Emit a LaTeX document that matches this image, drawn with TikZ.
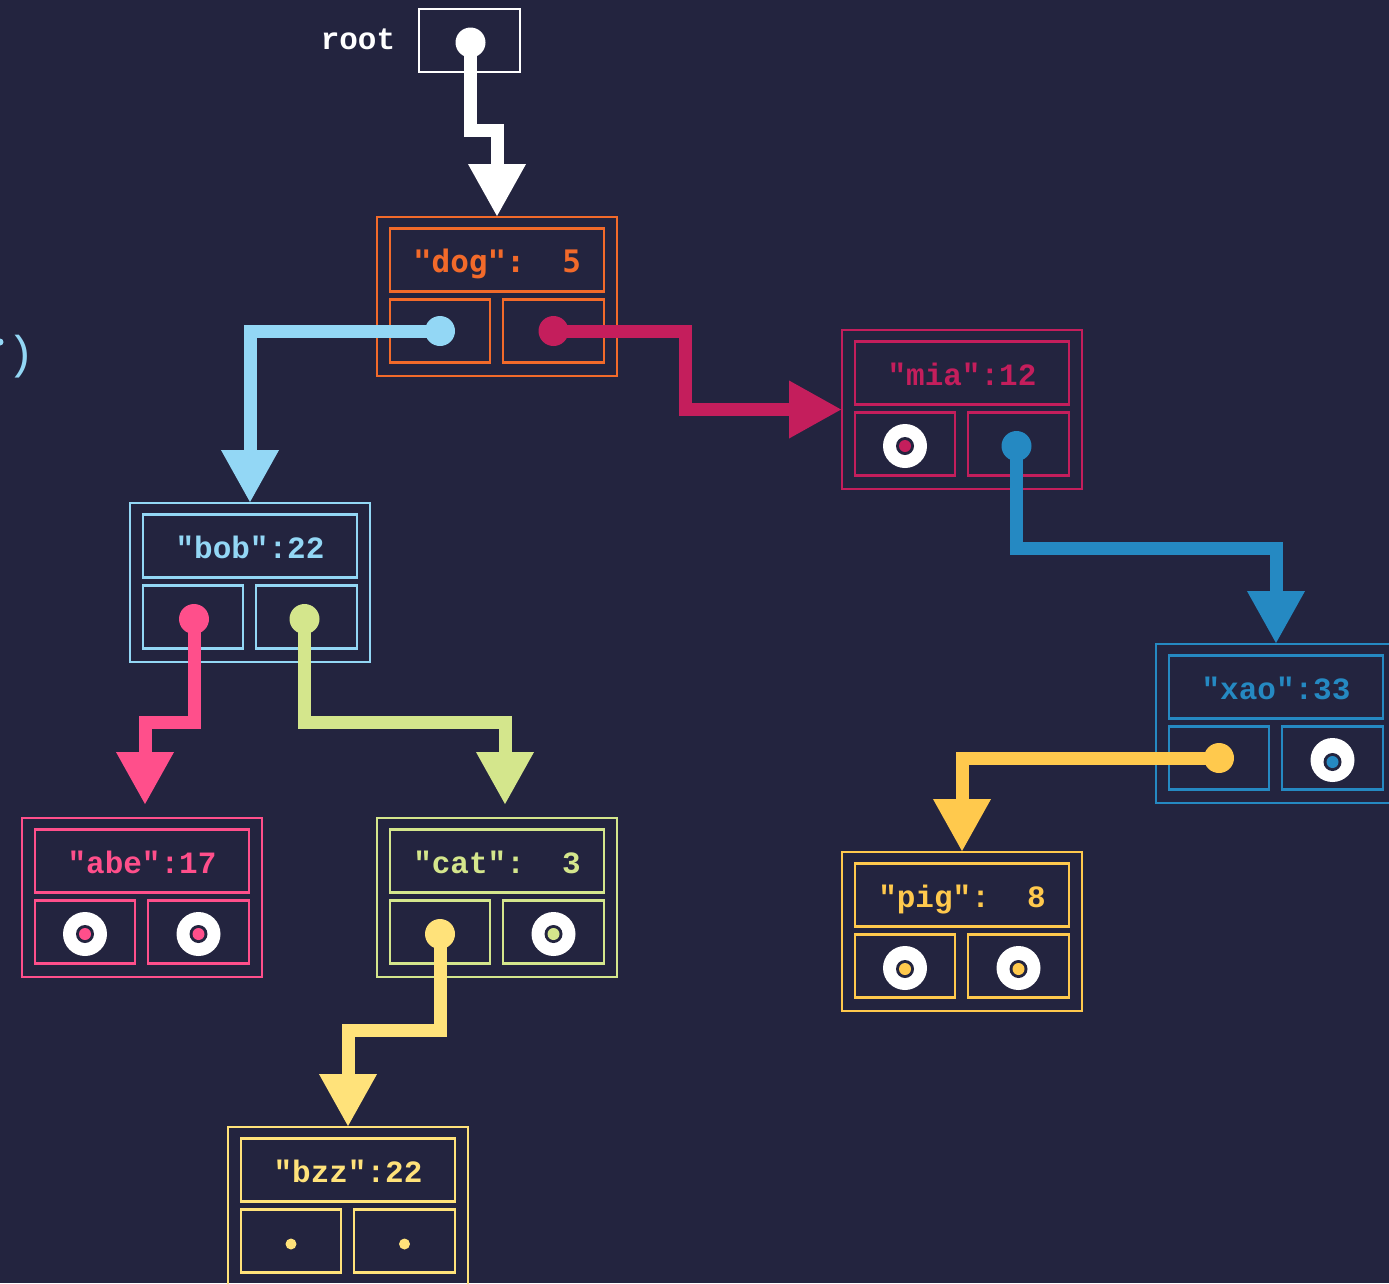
\documentclass[tikz,border=0pt]{standalone}
\usepackage{fontspec}
\usetikzlibrary{arrows.meta,calc}
\newfontfamily\codefont{Liberation Mono}
\newfontfamily\dogfont{DejaVu Sans Mono}
\definecolor{bg}{HTML}{23243F}
\definecolor{cdog}{HTML}{F26A2A}
\definecolor{cmia}{HTML}{C41E5C}
\definecolor{cbob}{HTML}{93D7F5}
\definecolor{cabe}{HTML}{FF4F8B}
\definecolor{ccat}{HTML}{D4E68C}
\definecolor{cbzz}{HTML}{FFE27A}
\definecolor{cxao}{HTML}{2589C2}
\definecolor{cpig}{HTML}{FFC94D}
\tikzset{
  outerbox/.style={draw, line width=2.4pt, minimum width=240pt, minimum height=159pt,
    inner sep=0pt, outer sep=0pt, anchor=north west},
  keybox/.style={draw, line width=2.4pt, minimum width=214pt, minimum height=63pt,
    inner sep=0pt, outer sep=0pt, anchor=north west, text height=24pt, text depth=0pt},
  ptrbox/.style={draw, line width=2.4pt, minimum height=63pt,
    inner sep=0pt, outer sep=0pt, anchor=north west},
  ptrdot/.style={circle, minimum size=30pt, inner sep=0pt, outer sep=0pt, draw=none},
  smalldot/.style={circle, minimum size=11pt, inner sep=0pt, outer sep=0pt, draw=none},
  link/.style={line width=13pt, line join=miter,
    -{Triangle[length=53pt,width=54pt]}},
  lbl/.style={font=\codefont\bfseries\fontsize{31}{31}\selectfont}
}
\newcommand\treenode[6]{%
  \node[outerbox, draw=#4] (#1) at (#2,#3) {};
  \node[keybox, draw=#4, text=#4, font=#6\bfseries\fontsize{31}{31}\selectfont]
    (#1-k) at ($(#1.north west)+(13,11.5)$) {#5};
  \node[ptrbox, draw=#4, minimum width=100pt] (#1-l) at ($(#1.north west)+(13,82.5)$) {};
  \node[ptrbox, draw=#4, minimum width=101pt] (#1-r) at ($(#1.north west)+(126,82.5)$) {};
}
\newcommand\nilring[3]{%
  \fill[white] ($(#1)+(0,2)$) circle (22pt);
  \fill[bg] ($(#1)+(0,#3)$) circle (9pt);
  \fill[#2] ($(#1)+(0,#3)$) circle (6pt);
}
\begin{document}
\begin{tikzpicture}[x=1pt,y=-1pt]
\useasboundingbox (0,0) rectangle (1389,1283);
\fill[bg] (0,0) rectangle (1389,1283);

% left edge fragment
\node[text=cbob, font=\codefont\fontsize{46}{46}\selectfont, inner sep=0pt] (paren) at (21,357) {)};
\fill[cbob] (0,342) circle (3.5pt);

% root
\node[draw=white, line width=2.4pt, minimum width=101pt, minimum height=63pt, inner sep=0pt,
  outer sep=0pt, anchor=north west] (rootbox) at (419,9) {};
\node[lbl, text=white, anchor=base] (rootlbl) at (358,49) {root};

% tree nodes
\treenode{dog}{377}{217}{cdog}{"dog":\ \ 5}{\dogfont}
\treenode{mia}{842}{330}{cmia}{"mia":12}{\codefont}
\treenode{bob}{130}{503}{cbob}{"bob":22}{\codefont}
\treenode{abe}{22}{818}{cabe}{"abe":17}{\codefont}
\treenode{cat}{377}{818}{ccat}{"cat":\ \ 3}{\codefont}
\treenode{xao}{1156}{644}{cxao}{"xao":33}{\codefont}
\treenode{pig}{842}{852}{cpig}{"pig":\ \ 8}{\codefont}
\treenode{bzz}{228}{1127}{cbzz}{"bzz":22}{\codefont}

% connectors
\draw[link, white] ($(rootbox.center)+(1,2)$) -- ++(0,88) -| (dog.north);
\draw[link, cbob] (dog-l.center) -| (bob.north);
\draw[link, cmia] (dog-r.center) -- ++(131.5,0) |- (mia.west);
\draw[link, cxao] ($(mia-r.center)+(-2,2)$) -- ++(0,102) -| (xao.north);
\draw[link, cabe] ($(bob-l.center)+(1,2)$) -- ++(0,103) -| ($(abe.north)+(3,-13)$);
\draw[link, ccat] ($(bob-r.center)+(-2,2)$) -- ++(0,103) -| ($(cat.north)+(8,-13)$);
\draw[link, cbzz] ($(cat-l.center)+(0,2)$) -- ++(0,96) -| (bzz.north);
\draw[link, cpig] (xao-l.center) -| (pig.north);

% pointer dots
\node[ptrdot, fill=white] (rootp) at ($(rootbox.center)+(1,2)$) {};
\node[ptrdot, fill=cbob] (dog-lp) at (dog-l.center) {};
\node[ptrdot, fill=cmia] (dog-rp) at (dog-r.center) {};
\node[ptrdot, fill=cxao] (mia-rp) at ($(mia-r.center)+(-2,2)$) {};
\node[ptrdot, fill=cabe] (bob-lp) at ($(bob-l.center)+(1,2)$) {};
\node[ptrdot, fill=ccat] (bob-rp) at ($(bob-r.center)+(-2,2)$) {};
\node[ptrdot, fill=cbzz] (cat-lp) at ($(cat-l.center)+(0,2)$) {};
\node[ptrdot, fill=cpig] (xao-lp) at (xao-l.center) {};

% null pointers
\nilring{mia-l.center}{cmia}{2}
\nilring{cat-r.center}{ccat}{2}
\nilring{xao-r.center}{cxao}{4}
\nilring{abe-l.center}{cabe}{2}
\nilring{abe-r.center}{cabe}{2}
\nilring{pig-l.center}{cpig}{3}
\nilring{pig-r.center}{cpig}{3}
\node[smalldot, fill=cbzz] (bzz-lp) at ($(bzz-l.center)+(0,3)$) {};
\node[smalldot, fill=cbzz] (bzz-rp) at ($(bzz-r.center)+(0,3)$) {};
\end{tikzpicture}
\end{document}
